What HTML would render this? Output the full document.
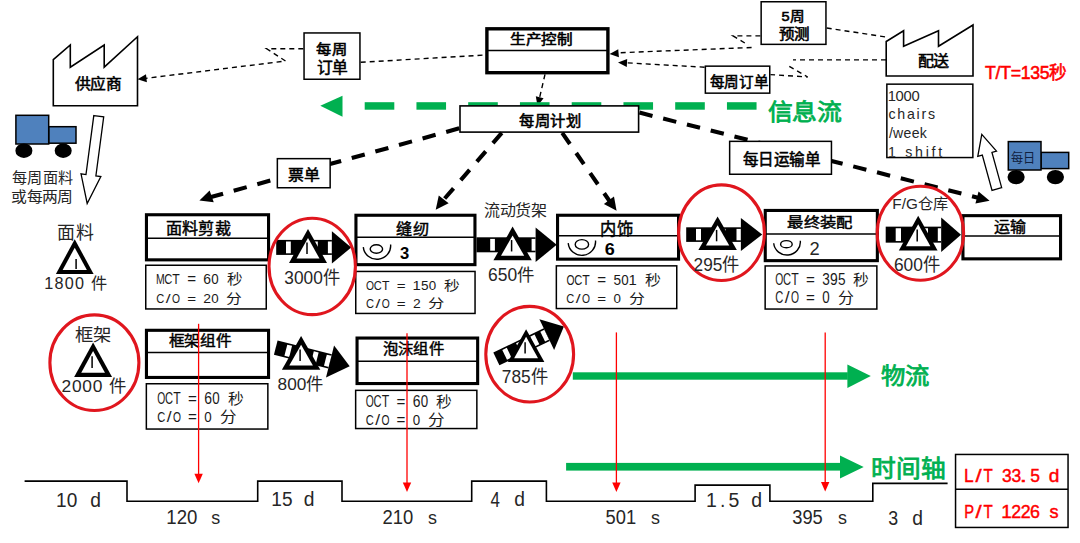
<!DOCTYPE html>
<html lang="zh-CN"><head><meta charset="utf-8"><title>VSM</title>
<style>html,body{margin:0;padding:0;background:#fff;width:1080px;height:543px;overflow:hidden}svg{display:block}</style>
</head><body>
<svg width="1080" height="543" viewBox="0 0 1080 543">
<rect width="1080" height="543" fill="#fff"/>
<path d="M53.3,105.8 L53.3,59.7 L70.3,45 L70.3,67.2 L104.2,45 L104.2,67.2 L137.5,36.7 L137.5,105.8 Z" fill="#fff" stroke="#000" stroke-width="1.6"/>
<text x="75.00" y="89.10" font-family="&quot;Liberation Sans&quot;, sans-serif" font-size="15.32" stroke="#000" stroke-width="0.55" fill="#000" textLength="46.20" lengthAdjust="spacingAndGlyphs">供应商</text>
<path d="M886.2,76 L886.2,41.5 L903.6,30.8 L903.6,46.2 L938.5,30.8 L938.5,46.2 L973,25 L973,76 Z" fill="#fff" stroke="#000" stroke-width="1.6"/>
<text x="917.50" y="66.30" font-family="&quot;Liberation Sans&quot;, sans-serif" font-size="15.11" stroke="#000" stroke-width="0.55" fill="#000" textLength="31.63" lengthAdjust="spacingAndGlyphs">配送</text>
<rect x="48.7" y="126.7" width="27.299999999999997" height="16.499999999999986" fill="#4F81BD" stroke="#000" stroke-width="1.5"/>
<rect x="15.9" y="115.3" width="32.800000000000004" height="28.700000000000003" fill="#4F81BD" stroke="#000" stroke-width="1.5"/>
<ellipse cx="23.9" cy="150.7" rx="8.5" ry="7.2" fill="#000"/>
<ellipse cx="63.2" cy="150.7" rx="8.5" ry="7.2" fill="#000"/>
<rect x="1041" y="152.4" width="27.700000000000045" height="16.19999999999999" fill="#4F81BD" stroke="#000" stroke-width="1.5"/>
<rect x="1008.3" y="141.6" width="32.700000000000045" height="28.400000000000006" fill="#4F81BD" stroke="#000" stroke-width="1.5"/>
<ellipse cx="1016.1" cy="177.1" rx="8.6" ry="7.2" fill="#000"/>
<ellipse cx="1055.4" cy="177.1" rx="8.6" ry="7.2" fill="#000"/>
<text x="1010.60" y="161.50" font-family="&quot;Liberation Sans&quot;, sans-serif" font-size="12.80" fill="#102040" textLength="24.75" lengthAdjust="spacingAndGlyphs">每日</text>
<path transform="translate(98.75,116.2) rotate(7.55)" d="M-5,0 L5,0 L5,59.5 L10,59.5 L0,88 L-10,59.5 L-5,59.5 Z" fill="#fff" stroke="#000" stroke-width="1.3"/>
<path transform="translate(996.85,189) rotate(164.6)" d="M-5,0 L5,0 L5,36.6 L9.7,36.6 L0,56.7 L-9.7,36.6 L-5,36.6 Z" fill="#fff" stroke="#000" stroke-width="1.3"/>
<text x="11.65" y="183.45" font-family="&quot;Liberation Sans&quot;, sans-serif" font-size="14.62" fill="#262626" textLength="62.10" lengthAdjust="spacingAndGlyphs">每周面料</text>
<text x="11.40" y="201.85" font-family="&quot;Liberation Sans&quot;, sans-serif" font-size="14.47" fill="#262626" textLength="61.26" lengthAdjust="spacingAndGlyphs">或每两周</text>
<rect x="304.05" y="32.95" width="55.90" height="46.30" fill="#fff" stroke="#000" stroke-width="1.5"/>
<text x="316.25" y="53.85" font-family="&quot;Liberation Sans&quot;, sans-serif" font-size="14.04" stroke="#000" stroke-width="0.55" fill="#000" textLength="30.50" lengthAdjust="spacingAndGlyphs">每周</text>
<text x="316.50" y="72.55" font-family="&quot;Liberation Sans&quot;, sans-serif" font-size="15.38" stroke="#000" stroke-width="0.55" fill="#000" textLength="30.66" lengthAdjust="spacingAndGlyphs">订单</text>
<rect x="761.15" y="1.75" width="64.80" height="42.60" fill="#fff" stroke="#000" stroke-width="1.5"/>
<text x="781.55" y="20.95" font-family="&quot;Liberation Sans&quot;, sans-serif" font-size="13.15" stroke="#000" stroke-width="0.55" fill="#000" textLength="22.54" lengthAdjust="spacingAndGlyphs">5周</text>
<text x="778.55" y="38.65" font-family="&quot;Liberation Sans&quot;, sans-serif" font-size="14.35" stroke="#000" stroke-width="0.55" fill="#000" textLength="30.28" lengthAdjust="spacingAndGlyphs">预测</text>
<rect x="705.35" y="66.15" width="64.40" height="27.00" fill="#fff" stroke="#000" stroke-width="1.5"/>
<text x="709.65" y="86.50" font-family="&quot;Liberation Sans&quot;, sans-serif" font-size="14.79" stroke="#000" stroke-width="0.55" fill="#000" textLength="59.08" lengthAdjust="spacingAndGlyphs">每周订单</text>
<rect x="486.90" y="28.80" width="121.00" height="43.90" fill="#fff" stroke="#000" stroke-width="3.4"/>
<line x1="486.9" y1="50.5" x2="607.9" y2="50.5" stroke="#000" stroke-width="1.5" stroke-linecap="butt"/>
<text x="510.00" y="43.70" font-family="&quot;Liberation Sans&quot;, sans-serif" font-size="14.04" stroke="#000" stroke-width="0.55" fill="#000" textLength="62.22" lengthAdjust="spacingAndGlyphs">生产控制</text>
<path d="M303.3,48.8 L266.7,48.8 L285.5,61 L143,78.7" fill="none" stroke="#000" stroke-width="1.4" stroke-dasharray="5,4"/>
<polygon points="137.50,79.30 145.98,74.29 146.90,82.24" fill="#000" stroke="none" stroke-width="0"/>
<line x1="360.7" y1="62.3" x2="485.2" y2="55" stroke="#000" stroke-width="1.4" stroke-dasharray="5,4" stroke-linecap="butt"/>
<line x1="826.7" y1="28" x2="886" y2="37" stroke="#000" stroke-width="1.4" stroke-dasharray="5,4" stroke-linecap="butt"/>
<path d="M760.4,35.9 L733.1,35.9 L748.3,45.1" fill="none" stroke="#000" stroke-width="1.4" stroke-dasharray="5,4"/>
<line x1="751.6" y1="47.5" x2="618" y2="52.8" stroke="#000" stroke-width="1.4" stroke-dasharray="5,4" stroke-linecap="butt"/>
<polygon points="609.60,54.00 618.23,49.25 618.91,57.22" fill="#000" stroke="none" stroke-width="0"/>
<path d="M886,59.9 L793,59.9" fill="none" stroke="#000" stroke-width="1.4" stroke-dasharray="5,4"/>
<path d="M789.3,66.3 L807.7,77 L770.5,74.6" fill="none" stroke="#000" stroke-width="1.4" stroke-dasharray="5,4"/>
<line x1="704.6" y1="67.2" x2="626" y2="62.8" stroke="#000" stroke-width="1.4" stroke-dasharray="5,4" stroke-linecap="butt"/>
<polygon points="618.00,62.50 627.19,58.95 626.79,66.94" fill="#000" stroke="none" stroke-width="0"/>
<line x1="545" y1="74.4" x2="539.5" y2="98" stroke="#000" stroke-width="1.4" stroke-dasharray="5,4" stroke-linecap="butt"/>
<polygon points="537.50,106.00 535.80,96.30 543.56,98.24" fill="#000" stroke="none" stroke-width="0"/>
<rect x="364.70" y="102.2" width="29.6" height="7.5" fill="#00B050"/>
<rect x="416.45" y="102.2" width="29.6" height="7.5" fill="#00B050"/>
<rect x="468.20" y="102.2" width="29.6" height="7.5" fill="#00B050"/>
<rect x="519.95" y="102.2" width="29.6" height="7.5" fill="#00B050"/>
<rect x="571.70" y="102.2" width="29.6" height="7.5" fill="#00B050"/>
<rect x="623.45" y="102.2" width="29.6" height="7.5" fill="#00B050"/>
<rect x="675.20" y="102.2" width="29.6" height="7.5" fill="#00B050"/>
<rect x="726.95" y="102.2" width="29.6" height="7.5" fill="#00B050"/>
<polygon points="320.30,105.80 342.50,95.80 342.50,116.70" fill="#00B050" stroke="none" stroke-width="0"/>
<text x="767.65" y="120.25" font-family="&quot;Liberation Sans&quot;, sans-serif" font-size="23.26" stroke="#00B050" stroke-width="0.8" fill="#00B050" textLength="73.64" lengthAdjust="spacingAndGlyphs">信息流</text>
<rect x="460.00" y="105.90" width="178.60" height="26.20" fill="#fff" stroke="#000" stroke-width="1.6"/>
<text x="519.15" y="126.00" font-family="&quot;Liberation Sans&quot;, sans-serif" font-size="14.79" stroke="#000" stroke-width="0.55" fill="#000" textLength="62.17" lengthAdjust="spacingAndGlyphs">每周计划</text>
<rect x="886.85" y="84.15" width="86.00" height="73.40" fill="#fff" stroke="#000" stroke-width="1.5"/>
<clipPath id="cb"><rect x="887" y="84.5" width="85" height="72.3"/></clipPath>
<g clip-path="url(#cb)">
<text x="887.65" y="100.55" font-family="&quot;Liberation Sans&quot;, sans-serif" font-size="14.79" fill="#262626" textLength="31.99" lengthAdjust="spacing">1000</text>
<text x="888.40" y="118.75" font-family="&quot;Liberation Sans&quot;, sans-serif" font-size="14.19" fill="#262626" textLength="46.60" lengthAdjust="spacing">chairs</text>
<text x="888.90" y="138.45" font-family="&quot;Liberation Sans&quot;, sans-serif" font-size="14.05" fill="#262626" textLength="37.98" lengthAdjust="spacing">/week</text>
<text x="887.90" y="156.55" font-family="&quot;Liberation Sans&quot;, sans-serif" font-size="14.19" fill="#262626" textLength="54.30" lengthAdjust="spacing">1 shift</text>
</g>
<text x="985.10" y="79.05" font-family="&quot;Liberation Sans&quot;, sans-serif" font-size="17.66" stroke="#FF0000" stroke-width="0.55" fill="#FF0000" textLength="82.20" lengthAdjust="spacing">T/T=135秒</text>
<line x1="459.2" y1="128.3" x2="206" y2="198.4" stroke="#000" stroke-width="4.1" stroke-dasharray="13.5,11" stroke-linecap="butt"/>
<polygon points="199.40,200.60 209.62,190.42 213.73,202.22" fill="#000" stroke="none" stroke-width="0"/>
<rect x="277.35" y="158.65" width="52.80" height="29.10" fill="#fff" stroke="#000" stroke-width="1.5"/>
<text x="288.35" y="180.00" font-family="&quot;Liberation Sans&quot;, sans-serif" font-size="15.16" stroke="#000" stroke-width="0.55" fill="#000" textLength="31.40" lengthAdjust="spacingAndGlyphs">票单</text>
<line x1="501.8" y1="132.9" x2="442.5" y2="201" stroke="#000" stroke-width="4.1" stroke-dasharray="13.5,11" stroke-linecap="butt"/>
<polygon points="435.70,209.70 438.78,195.61 448.63,203.31" fill="#000" stroke="none" stroke-width="0"/>
<line x1="562.2" y1="132.9" x2="609.5" y2="201" stroke="#000" stroke-width="4.1" stroke-dasharray="13.5,11" stroke-linecap="butt"/>
<polygon points="616.60,210.70 603.88,203.90 613.96,196.52" fill="#000" stroke="none" stroke-width="0"/>
<line x1="639.4" y1="112.6" x2="981" y2="198.5" stroke="#000" stroke-width="4.1" stroke-dasharray="13.5,11" stroke-linecap="butt"/>
<polygon points="989.60,200.70 975.46,203.55 978.54,191.43" fill="#000" stroke="none" stroke-width="0"/>
<rect x="729.65" y="141.35" width="101.80" height="32.90" fill="#fff" stroke="#000" stroke-width="1.5"/>
<text x="742.55" y="164.85" font-family="&quot;Liberation Sans&quot;, sans-serif" font-size="15.96" stroke="#000" stroke-width="0.55" fill="#000" textLength="77.96" lengthAdjust="spacingAndGlyphs">每日运输单</text>
<rect x="146.45" y="214.75" width="122.10" height="45.10" fill="#fff" stroke="#000" stroke-width="3.1"/>
<line x1="146.45000000000002" y1="238.2" x2="268.55" y2="238.2" stroke="#000" stroke-width="1.5" stroke-linecap="butt"/>
<text x="165.55" y="234.10" font-family="&quot;Liberation Sans&quot;, sans-serif" font-size="15.74" stroke="#000" stroke-width="0.45" fill="#000" textLength="65.37" lengthAdjust="spacingAndGlyphs">面料剪裁</text>
<rect x="145.75" y="265.25" width="120.50" height="43.70" fill="#fff" stroke="#000" stroke-width="1.5"/>
<text x="156.06" y="284.40" font-family="&quot;Liberation Sans&quot;, sans-serif" font-size="14.43" fill="#1a1a1a" textLength="8.70" lengthAdjust="spacingAndGlyphs">M</text>
<text x="164.14" y="284.40" font-family="&quot;Liberation Sans&quot;, sans-serif" font-size="14.43" fill="#1a1a1a" textLength="8.02" lengthAdjust="spacingAndGlyphs">C</text>
<text x="172.25" y="284.40" font-family="&quot;Liberation Sans&quot;, sans-serif" font-size="14.43" fill="#1a1a1a" textLength="7.50" lengthAdjust="spacingAndGlyphs">T</text>
<text x="187.19" y="284.40" font-family="&quot;Liberation Sans&quot;, sans-serif" font-size="14.43" fill="#1a1a1a" textLength="8.88" lengthAdjust="spacingAndGlyphs">=</text>
<text x="203.30" y="284.40" font-family="&quot;Liberation Sans&quot;, sans-serif" font-size="14.43" fill="#1a1a1a" textLength="7.74" lengthAdjust="spacingAndGlyphs">6</text>
<text x="211.27" y="284.40" font-family="&quot;Liberation Sans&quot;, sans-serif" font-size="14.43" fill="#1a1a1a" textLength="7.42" lengthAdjust="spacingAndGlyphs">0</text>
<text x="226.72" y="284.30" font-family="&quot;Liberation Sans&quot;, sans-serif" font-size="13.74" fill="#1a1a1a" textLength="15.87" lengthAdjust="spacingAndGlyphs">秒</text>
<text x="156.34" y="303.00" font-family="&quot;Liberation Sans&quot;, sans-serif" font-size="13.14" fill="#1a1a1a" textLength="8.02" lengthAdjust="spacingAndGlyphs">C</text>
<text x="165.75" y="303.00" font-family="&quot;Liberation Sans&quot;, sans-serif" font-size="13.14" fill="#1a1a1a" textLength="4.86" lengthAdjust="spacingAndGlyphs">/</text>
<text x="171.99" y="303.00" font-family="&quot;Liberation Sans&quot;, sans-serif" font-size="13.14" fill="#1a1a1a" textLength="8.01" lengthAdjust="spacingAndGlyphs">O</text>
<text x="187.19" y="303.00" font-family="&quot;Liberation Sans&quot;, sans-serif" font-size="13.14" fill="#1a1a1a" textLength="8.88" lengthAdjust="spacingAndGlyphs">=</text>
<text x="203.30" y="303.00" font-family="&quot;Liberation Sans&quot;, sans-serif" font-size="13.14" fill="#1a1a1a" textLength="7.74" lengthAdjust="spacingAndGlyphs">2</text>
<text x="211.27" y="303.00" font-family="&quot;Liberation Sans&quot;, sans-serif" font-size="13.14" fill="#1a1a1a" textLength="7.42" lengthAdjust="spacingAndGlyphs">0</text>
<text x="226.40" y="302.85" font-family="&quot;Liberation Sans&quot;, sans-serif" font-size="12.75" fill="#1a1a1a" textLength="16.04" lengthAdjust="spacingAndGlyphs">分</text>
<rect x="355.95" y="215.25" width="119.00" height="49.40" fill="#fff" stroke="#000" stroke-width="3.1"/>
<line x1="355.95" y1="237.3" x2="474.95" y2="237.3" stroke="#000" stroke-width="1.5" stroke-linecap="butt"/>
<text x="396.45" y="233.85" font-family="&quot;Liberation Sans&quot;, sans-serif" font-size="14.68" stroke="#000" stroke-width="0.45" fill="#000" textLength="33.06" lengthAdjust="spacingAndGlyphs">缝纫</text>
<path d="M363.3,247.1 A13.65,13.40 0 0 0 390.6,244.5" fill="none" stroke="#000" stroke-width="1.4"/>
<ellipse cx="376.4" cy="249" rx="6.2" ry="4.3" fill="none" stroke="#000" stroke-width="1.4"/>
<text x="400.10" y="259.00" font-family="&quot;Liberation Sans&quot;, sans-serif" font-size="16.48" font-weight="bold" fill="#000" textLength="9.24" lengthAdjust="spacingAndGlyphs">3</text>
<rect x="355.75" y="271.45" width="119.30" height="42.00" fill="#fff" stroke="#000" stroke-width="1.5"/>
<text x="366.09" y="289.80" font-family="&quot;Liberation Sans&quot;, sans-serif" font-size="13.29" fill="#1a1a1a" textLength="8.01" lengthAdjust="spacingAndGlyphs">O</text>
<text x="373.84" y="289.80" font-family="&quot;Liberation Sans&quot;, sans-serif" font-size="13.29" fill="#1a1a1a" textLength="8.02" lengthAdjust="spacingAndGlyphs">C</text>
<text x="381.95" y="289.80" font-family="&quot;Liberation Sans&quot;, sans-serif" font-size="13.29" fill="#1a1a1a" textLength="7.50" lengthAdjust="spacingAndGlyphs">T</text>
<text x="396.89" y="289.80" font-family="&quot;Liberation Sans&quot;, sans-serif" font-size="13.29" fill="#1a1a1a" textLength="8.88" lengthAdjust="spacingAndGlyphs">=</text>
<text x="412.51" y="289.80" font-family="&quot;Liberation Sans&quot;, sans-serif" font-size="13.29" fill="#1a1a1a" textLength="8.28" lengthAdjust="spacingAndGlyphs">1</text>
<text x="420.96" y="289.80" font-family="&quot;Liberation Sans&quot;, sans-serif" font-size="13.29" fill="#1a1a1a" textLength="7.57" lengthAdjust="spacingAndGlyphs">5</text>
<text x="428.77" y="289.80" font-family="&quot;Liberation Sans&quot;, sans-serif" font-size="13.29" fill="#1a1a1a" textLength="7.42" lengthAdjust="spacingAndGlyphs">0</text>
<text x="444.22" y="289.77" font-family="&quot;Liberation Sans&quot;, sans-serif" font-size="12.86" fill="#1a1a1a" textLength="15.87" lengthAdjust="spacingAndGlyphs">秒</text>
<text x="366.04" y="307.70" font-family="&quot;Liberation Sans&quot;, sans-serif" font-size="12.57" fill="#1a1a1a" textLength="8.02" lengthAdjust="spacingAndGlyphs">C</text>
<text x="375.45" y="307.70" font-family="&quot;Liberation Sans&quot;, sans-serif" font-size="12.57" fill="#1a1a1a" textLength="4.86" lengthAdjust="spacingAndGlyphs">/</text>
<text x="381.69" y="307.70" font-family="&quot;Liberation Sans&quot;, sans-serif" font-size="12.57" fill="#1a1a1a" textLength="8.01" lengthAdjust="spacingAndGlyphs">O</text>
<text x="396.89" y="307.70" font-family="&quot;Liberation Sans&quot;, sans-serif" font-size="12.57" fill="#1a1a1a" textLength="8.88" lengthAdjust="spacingAndGlyphs">=</text>
<text x="413.00" y="307.70" font-family="&quot;Liberation Sans&quot;, sans-serif" font-size="12.57" fill="#1a1a1a" textLength="7.74" lengthAdjust="spacingAndGlyphs">2</text>
<text x="428.30" y="307.59" font-family="&quot;Liberation Sans&quot;, sans-serif" font-size="12.31" fill="#1a1a1a" textLength="16.04" lengthAdjust="spacingAndGlyphs">分</text>
<rect x="557.55" y="215.25" width="121.00" height="43.90" fill="#fff" stroke="#000" stroke-width="3.1"/>
<line x1="557.55" y1="235.8" x2="678.5500000000001" y2="235.8" stroke="#000" stroke-width="1.5" stroke-linecap="butt"/>
<text x="600.10" y="234.85" font-family="&quot;Liberation Sans&quot;, sans-serif" font-size="16.60" stroke="#000" stroke-width="0.45" fill="#000" textLength="33.30" lengthAdjust="spacingAndGlyphs">内饰</text>
<path d="M568.2,243.1 A13.65,13.50 0 0 0 595.5,240.5" fill="none" stroke="#000" stroke-width="1.4"/>
<ellipse cx="581.9" cy="244.4" rx="6.7" ry="4.75" fill="none" stroke="#000" stroke-width="1.4"/>
<text x="604.75" y="255.10" font-family="&quot;Liberation Sans&quot;, sans-serif" font-size="17.18" font-weight="bold" fill="#000" textLength="10.03" lengthAdjust="spacingAndGlyphs">6</text>
<rect x="556.35" y="265.85" width="120.40" height="42.70" fill="#fff" stroke="#000" stroke-width="1.5"/>
<text x="566.39" y="285.00" font-family="&quot;Liberation Sans&quot;, sans-serif" font-size="14.86" fill="#1a1a1a" textLength="8.01" lengthAdjust="spacingAndGlyphs">O</text>
<text x="574.14" y="285.00" font-family="&quot;Liberation Sans&quot;, sans-serif" font-size="14.86" fill="#1a1a1a" textLength="8.02" lengthAdjust="spacingAndGlyphs">C</text>
<text x="582.25" y="285.00" font-family="&quot;Liberation Sans&quot;, sans-serif" font-size="14.86" fill="#1a1a1a" textLength="7.50" lengthAdjust="spacingAndGlyphs">T</text>
<text x="597.19" y="285.00" font-family="&quot;Liberation Sans&quot;, sans-serif" font-size="14.86" fill="#1a1a1a" textLength="8.88" lengthAdjust="spacingAndGlyphs">=</text>
<text x="613.46" y="285.00" font-family="&quot;Liberation Sans&quot;, sans-serif" font-size="14.86" fill="#1a1a1a" textLength="7.57" lengthAdjust="spacingAndGlyphs">5</text>
<text x="621.27" y="285.00" font-family="&quot;Liberation Sans&quot;, sans-serif" font-size="14.86" fill="#1a1a1a" textLength="7.42" lengthAdjust="spacingAndGlyphs">0</text>
<text x="628.41" y="285.00" font-family="&quot;Liberation Sans&quot;, sans-serif" font-size="14.86" fill="#1a1a1a" textLength="8.28" lengthAdjust="spacingAndGlyphs">1</text>
<text x="644.52" y="284.87" font-family="&quot;Liberation Sans&quot;, sans-serif" font-size="14.07" fill="#1a1a1a" textLength="15.87" lengthAdjust="spacingAndGlyphs">秒</text>
<text x="566.34" y="302.80" font-family="&quot;Liberation Sans&quot;, sans-serif" font-size="13.29" fill="#1a1a1a" textLength="8.02" lengthAdjust="spacingAndGlyphs">C</text>
<text x="575.75" y="302.80" font-family="&quot;Liberation Sans&quot;, sans-serif" font-size="13.29" fill="#1a1a1a" textLength="4.86" lengthAdjust="spacingAndGlyphs">/</text>
<text x="581.99" y="302.80" font-family="&quot;Liberation Sans&quot;, sans-serif" font-size="13.29" fill="#1a1a1a" textLength="8.01" lengthAdjust="spacingAndGlyphs">O</text>
<text x="597.19" y="302.80" font-family="&quot;Liberation Sans&quot;, sans-serif" font-size="13.29" fill="#1a1a1a" textLength="8.88" lengthAdjust="spacingAndGlyphs">=</text>
<text x="613.47" y="302.80" font-family="&quot;Liberation Sans&quot;, sans-serif" font-size="13.29" fill="#1a1a1a" textLength="7.42" lengthAdjust="spacingAndGlyphs">0</text>
<text x="628.60" y="302.64" font-family="&quot;Liberation Sans&quot;, sans-serif" font-size="12.86" fill="#1a1a1a" textLength="16.04" lengthAdjust="spacingAndGlyphs">分</text>
<rect x="765.25" y="210.45" width="112.10" height="50.20" fill="#fff" stroke="#000" stroke-width="3.1"/>
<line x1="765.25" y1="233.9" x2="877.35" y2="233.9" stroke="#000" stroke-width="1.5" stroke-linecap="butt"/>
<text x="787.30" y="227.25" font-family="&quot;Liberation Sans&quot;, sans-serif" font-size="14.15" stroke="#000" stroke-width="0.45" fill="#000" textLength="64.99" lengthAdjust="spacingAndGlyphs">最终装配</text>
<path d="M773.7,243.3 A13.30,12.95 0 0 0 800.3,240.8" fill="none" stroke="#000" stroke-width="1.4"/>
<ellipse cx="786.4" cy="244.2" rx="5.8" ry="3.6" fill="none" stroke="#000" stroke-width="1.4"/>
<text x="809.60" y="255.05" font-family="&quot;Liberation Sans&quot;, sans-serif" font-size="17.43" fill="#262626" textLength="10.22" lengthAdjust="spacingAndGlyphs">2</text>
<rect x="765.15" y="265.95" width="111.70" height="43.10" fill="#fff" stroke="#000" stroke-width="1.5"/>
<text x="775.29" y="285.00" font-family="&quot;Liberation Sans&quot;, sans-serif" font-size="16.00" fill="#1a1a1a" textLength="8.01" lengthAdjust="spacingAndGlyphs">O</text>
<text x="783.04" y="285.00" font-family="&quot;Liberation Sans&quot;, sans-serif" font-size="16.00" fill="#1a1a1a" textLength="8.02" lengthAdjust="spacingAndGlyphs">C</text>
<text x="791.15" y="285.00" font-family="&quot;Liberation Sans&quot;, sans-serif" font-size="16.00" fill="#1a1a1a" textLength="7.50" lengthAdjust="spacingAndGlyphs">T</text>
<text x="806.09" y="285.00" font-family="&quot;Liberation Sans&quot;, sans-serif" font-size="16.00" fill="#1a1a1a" textLength="8.88" lengthAdjust="spacingAndGlyphs">=</text>
<text x="822.36" y="285.00" font-family="&quot;Liberation Sans&quot;, sans-serif" font-size="16.00" fill="#1a1a1a" textLength="7.57" lengthAdjust="spacingAndGlyphs">3</text>
<text x="830.00" y="285.00" font-family="&quot;Liberation Sans&quot;, sans-serif" font-size="16.00" fill="#1a1a1a" textLength="7.74" lengthAdjust="spacingAndGlyphs">9</text>
<text x="837.96" y="285.00" font-family="&quot;Liberation Sans&quot;, sans-serif" font-size="16.00" fill="#1a1a1a" textLength="7.57" lengthAdjust="spacingAndGlyphs">5</text>
<text x="853.42" y="284.80" font-family="&quot;Liberation Sans&quot;, sans-serif" font-size="14.95" fill="#1a1a1a" textLength="15.87" lengthAdjust="spacingAndGlyphs">秒</text>
<text x="775.24" y="303.00" font-family="&quot;Liberation Sans&quot;, sans-serif" font-size="16.00" fill="#1a1a1a" textLength="8.02" lengthAdjust="spacingAndGlyphs">C</text>
<text x="784.65" y="303.00" font-family="&quot;Liberation Sans&quot;, sans-serif" font-size="16.00" fill="#1a1a1a" textLength="4.86" lengthAdjust="spacingAndGlyphs">/</text>
<text x="790.89" y="303.00" font-family="&quot;Liberation Sans&quot;, sans-serif" font-size="16.00" fill="#1a1a1a" textLength="8.01" lengthAdjust="spacingAndGlyphs">O</text>
<text x="806.09" y="303.00" font-family="&quot;Liberation Sans&quot;, sans-serif" font-size="16.00" fill="#1a1a1a" textLength="8.88" lengthAdjust="spacingAndGlyphs">=</text>
<text x="822.37" y="303.00" font-family="&quot;Liberation Sans&quot;, sans-serif" font-size="16.00" fill="#1a1a1a" textLength="7.42" lengthAdjust="spacingAndGlyphs">0</text>
<text x="837.50" y="302.65" font-family="&quot;Liberation Sans&quot;, sans-serif" font-size="14.95" fill="#1a1a1a" textLength="16.04" lengthAdjust="spacingAndGlyphs">分</text>
<rect x="962.95" y="215.65" width="97.60" height="43.20" fill="#fff" stroke="#000" stroke-width="3.1"/>
<line x1="962.9499999999999" y1="236" x2="1060.55" y2="236" stroke="#000" stroke-width="1.5" stroke-linecap="butt"/>
<text x="993.60" y="231.80" font-family="&quot;Liberation Sans&quot;, sans-serif" font-size="15.00" stroke="#000" stroke-width="0.45" fill="#000" textLength="31.97" lengthAdjust="spacingAndGlyphs">运输</text>
<rect x="146.45" y="330.30" width="122.10" height="47.15" fill="#fff" stroke="#000" stroke-width="3.1"/>
<line x1="146.45000000000002" y1="352.5" x2="268.55" y2="352.5" stroke="#000" stroke-width="1.5" stroke-linecap="butt"/>
<text x="168.95" y="346.30" font-family="&quot;Liberation Sans&quot;, sans-serif" font-size="15.11" stroke="#000" stroke-width="0.45" fill="#000" textLength="62.24" lengthAdjust="spacingAndGlyphs">框架组件</text>
<rect x="146.35" y="383.75" width="121.50" height="45.30" fill="#fff" stroke="#000" stroke-width="1.5"/>
<text x="157.29" y="404.00" font-family="&quot;Liberation Sans&quot;, sans-serif" font-size="16.00" fill="#1a1a1a" textLength="8.01" lengthAdjust="spacingAndGlyphs">O</text>
<text x="165.04" y="404.00" font-family="&quot;Liberation Sans&quot;, sans-serif" font-size="16.00" fill="#1a1a1a" textLength="8.02" lengthAdjust="spacingAndGlyphs">C</text>
<text x="173.15" y="404.00" font-family="&quot;Liberation Sans&quot;, sans-serif" font-size="16.00" fill="#1a1a1a" textLength="7.50" lengthAdjust="spacingAndGlyphs">T</text>
<text x="188.09" y="404.00" font-family="&quot;Liberation Sans&quot;, sans-serif" font-size="16.00" fill="#1a1a1a" textLength="8.88" lengthAdjust="spacingAndGlyphs">=</text>
<text x="204.20" y="404.00" font-family="&quot;Liberation Sans&quot;, sans-serif" font-size="16.00" fill="#1a1a1a" textLength="7.74" lengthAdjust="spacingAndGlyphs">6</text>
<text x="212.17" y="404.00" font-family="&quot;Liberation Sans&quot;, sans-serif" font-size="16.00" fill="#1a1a1a" textLength="7.42" lengthAdjust="spacingAndGlyphs">0</text>
<text x="227.62" y="403.80" font-family="&quot;Liberation Sans&quot;, sans-serif" font-size="14.95" fill="#1a1a1a" textLength="15.87" lengthAdjust="spacingAndGlyphs">秒</text>
<text x="157.24" y="422.00" font-family="&quot;Liberation Sans&quot;, sans-serif" font-size="15.43" fill="#1a1a1a" textLength="8.02" lengthAdjust="spacingAndGlyphs">C</text>
<text x="166.65" y="422.00" font-family="&quot;Liberation Sans&quot;, sans-serif" font-size="15.43" fill="#1a1a1a" textLength="4.86" lengthAdjust="spacingAndGlyphs">/</text>
<text x="172.89" y="422.00" font-family="&quot;Liberation Sans&quot;, sans-serif" font-size="15.43" fill="#1a1a1a" textLength="8.01" lengthAdjust="spacingAndGlyphs">O</text>
<text x="188.09" y="422.00" font-family="&quot;Liberation Sans&quot;, sans-serif" font-size="15.43" fill="#1a1a1a" textLength="8.88" lengthAdjust="spacingAndGlyphs">=</text>
<text x="204.37" y="422.00" font-family="&quot;Liberation Sans&quot;, sans-serif" font-size="15.43" fill="#1a1a1a" textLength="7.42" lengthAdjust="spacingAndGlyphs">0</text>
<text x="219.50" y="421.69" font-family="&quot;Liberation Sans&quot;, sans-serif" font-size="14.51" fill="#1a1a1a" textLength="16.04" lengthAdjust="spacingAndGlyphs">分</text>
<rect x="357.05" y="338.05" width="120.60" height="45.50" fill="#fff" stroke="#000" stroke-width="3.1"/>
<line x1="357.05" y1="361.3" x2="477.65" y2="361.3" stroke="#000" stroke-width="1.5" stroke-linecap="butt"/>
<text x="382.55" y="354.45" font-family="&quot;Liberation Sans&quot;, sans-serif" font-size="14.89" stroke="#000" stroke-width="0.45" fill="#000" textLength="61.89" lengthAdjust="spacingAndGlyphs">泡沫组件</text>
<rect x="355.65" y="390.35" width="121.20" height="38.20" fill="#fff" stroke="#000" stroke-width="1.5"/>
<text x="365.79" y="407.00" font-family="&quot;Liberation Sans&quot;, sans-serif" font-size="16.00" fill="#1a1a1a" textLength="8.01" lengthAdjust="spacingAndGlyphs">O</text>
<text x="373.54" y="407.00" font-family="&quot;Liberation Sans&quot;, sans-serif" font-size="16.00" fill="#1a1a1a" textLength="8.02" lengthAdjust="spacingAndGlyphs">C</text>
<text x="381.65" y="407.00" font-family="&quot;Liberation Sans&quot;, sans-serif" font-size="16.00" fill="#1a1a1a" textLength="7.50" lengthAdjust="spacingAndGlyphs">T</text>
<text x="396.59" y="407.00" font-family="&quot;Liberation Sans&quot;, sans-serif" font-size="16.00" fill="#1a1a1a" textLength="8.88" lengthAdjust="spacingAndGlyphs">=</text>
<text x="412.70" y="407.00" font-family="&quot;Liberation Sans&quot;, sans-serif" font-size="16.00" fill="#1a1a1a" textLength="7.74" lengthAdjust="spacingAndGlyphs">6</text>
<text x="420.67" y="407.00" font-family="&quot;Liberation Sans&quot;, sans-serif" font-size="16.00" fill="#1a1a1a" textLength="7.42" lengthAdjust="spacingAndGlyphs">0</text>
<text x="436.12" y="406.80" font-family="&quot;Liberation Sans&quot;, sans-serif" font-size="14.95" fill="#1a1a1a" textLength="15.87" lengthAdjust="spacingAndGlyphs">秒</text>
<text x="365.74" y="425.00" font-family="&quot;Liberation Sans&quot;, sans-serif" font-size="15.43" fill="#1a1a1a" textLength="8.02" lengthAdjust="spacingAndGlyphs">C</text>
<text x="375.15" y="425.00" font-family="&quot;Liberation Sans&quot;, sans-serif" font-size="15.43" fill="#1a1a1a" textLength="4.86" lengthAdjust="spacingAndGlyphs">/</text>
<text x="381.39" y="425.00" font-family="&quot;Liberation Sans&quot;, sans-serif" font-size="15.43" fill="#1a1a1a" textLength="8.01" lengthAdjust="spacingAndGlyphs">O</text>
<text x="396.59" y="425.00" font-family="&quot;Liberation Sans&quot;, sans-serif" font-size="15.43" fill="#1a1a1a" textLength="8.88" lengthAdjust="spacingAndGlyphs">=</text>
<text x="412.87" y="425.00" font-family="&quot;Liberation Sans&quot;, sans-serif" font-size="15.43" fill="#1a1a1a" textLength="7.42" lengthAdjust="spacingAndGlyphs">0</text>
<text x="428.00" y="424.69" font-family="&quot;Liberation Sans&quot;, sans-serif" font-size="14.51" fill="#1a1a1a" textLength="16.04" lengthAdjust="spacingAndGlyphs">分</text>
<text x="57.40" y="239.00" font-family="&quot;Liberation Sans&quot;, sans-serif" font-size="17.83" fill="#262626" textLength="36.26" lengthAdjust="spacingAndGlyphs">面料</text>
<polygon points="74.75,239.30 55.90,274.00 93.60,274.00" fill="#000" stroke="none" stroke-width="0"/>
<polygon points="74.75,247.68 62.63,270.00 86.87,270.00" fill="#fff" stroke="none" stroke-width="0"/>
<line x1="76.1" y1="259.1" x2="76.1" y2="269" stroke="#000" stroke-width="1.5" stroke-linecap="butt"/>
<text x="44.15" y="288.90" font-family="&quot;Liberation Sans&quot;, sans-serif" font-size="16.20" fill="#262626" textLength="62.75" lengthAdjust="spacing">1800 件</text>
<rect x="276.2" y="239.9" width="55.69999999999999" height="15" fill="#000"/>
<rect x="286" y="241.5" width="4.8" height="11.8" fill="#fff"/>
<rect x="313" y="241.5" width="4.8" height="11.8" fill="#fff"/>
<rect x="327.9" y="241.5" width="4" height="11.8" fill="#fff"/>
<polygon points="331.90,231.20 351.20,247.40 331.90,263.60" fill="#000" stroke="none" stroke-width="0"/>
<polygon points="308.00,229.00 289.00,262.90 327.00,262.90" fill="#000" stroke="none" stroke-width="0"/>
<polygon points="308.00,238.00 296.51,258.50 319.49,258.50" fill="#fff" stroke="none" stroke-width="0"/>
<line x1="307" y1="242.56" x2="307" y2="254.08599999999998" stroke="#000" stroke-width="1.5" stroke-linecap="butt"/>
<text x="284.35" y="283.70" font-family="&quot;Liberation Sans&quot;, sans-serif" font-size="18.04" fill="#262626" textLength="55.69" lengthAdjust="spacingAndGlyphs">3000件</text>
<ellipse cx="312.2" cy="266.4" rx="43.2" ry="48.2" fill="none" stroke="#E0161E" stroke-width="3.1"/>
<text x="484.15" y="215.50" font-family="&quot;Liberation Sans&quot;, sans-serif" font-size="15.38" fill="#262626" textLength="62.36" lengthAdjust="spacingAndGlyphs">流动货架</text>
<rect x="476.5" y="237.3" width="59.10000000000002" height="15" fill="#000"/>
<rect x="490.2" y="238.9" width="4.7" height="11.8" fill="#fff"/>
<rect x="513" y="238.9" width="4.6" height="11.8" fill="#fff"/>
<rect x="531.6" y="238.9" width="4" height="11.8" fill="#fff"/>
<polygon points="535.60,227.55 556.70,244.80 535.60,262.05" fill="#000" stroke="none" stroke-width="0"/>
<polygon points="512.60,226.60 493.45,260.20 531.75,260.20" fill="#000" stroke="none" stroke-width="0"/>
<polygon points="512.60,235.49 501.02,255.80 524.18,255.80" fill="#fff" stroke="none" stroke-width="0"/>
<line x1="511.6" y1="240.04" x2="511.6" y2="251.464" stroke="#000" stroke-width="1.5" stroke-linecap="butt"/>
<text x="488.10" y="280.65" font-family="&quot;Liberation Sans&quot;, sans-serif" font-size="17.50" fill="#262626" textLength="46.00" lengthAdjust="spacingAndGlyphs">650件</text>
<rect x="686.2" y="227.29999999999998" width="54.69999999999993" height="14.6" fill="#000"/>
<rect x="696" y="228.89999999999998" width="5" height="11.399999999999999" fill="#fff"/>
<rect x="721" y="228.89999999999998" width="4.6" height="11.399999999999999" fill="#fff"/>
<rect x="736.5" y="228.89999999999998" width="4.4" height="11.399999999999999" fill="#fff"/>
<polygon points="740.90,218.10 762.20,234.60 740.90,251.10" fill="#000" stroke="none" stroke-width="0"/>
<polygon points="717.60,216.50 698.35,250.00 736.85,250.00" fill="#000" stroke="none" stroke-width="0"/>
<polygon points="717.60,225.33 705.95,245.60 729.25,245.60" fill="#fff" stroke="none" stroke-width="0"/>
<line x1="716.6" y1="229.9" x2="716.6" y2="241.29" stroke="#000" stroke-width="1.5" stroke-linecap="butt"/>
<ellipse cx="721.5" cy="232.7" rx="42.9" ry="47.8" fill="none" stroke="#E0161E" stroke-width="3.1"/>
<text x="693.55" y="271.05" font-family="&quot;Liberation Sans&quot;, sans-serif" font-size="17.72" fill="#262626" textLength="46.36" lengthAdjust="spacingAndGlyphs">295件</text>
<text x="892.35" y="209.10" font-family="&quot;Liberation Sans&quot;, sans-serif" font-size="15.27" fill="#262626" textLength="55.46" lengthAdjust="spacingAndGlyphs">F/G仓库</text>
<rect x="885.7" y="226.65" width="55.5" height="16" fill="#000"/>
<rect x="895.7" y="228.25" width="5.3" height="12.8" fill="#fff"/>
<rect x="924.7" y="228.25" width="3.3" height="12.8" fill="#fff"/>
<rect x="937.8" y="228.25" width="3.4" height="12.8" fill="#fff"/>
<polygon points="941.20,217.40 961.00,234.65 941.20,251.90" fill="#000" stroke="none" stroke-width="0"/>
<polygon points="918.20,215.70 898.85,250.50 937.55,250.50" fill="#000" stroke="none" stroke-width="0"/>
<polygon points="918.20,224.34 905.99,246.30 930.41,246.30" fill="#fff" stroke="none" stroke-width="0"/>
<line x1="917.2" y1="229.62" x2="917.2" y2="241.452" stroke="#000" stroke-width="1.5" stroke-linecap="butt"/>
<ellipse cx="920.4" cy="233.3" rx="43.2" ry="47" fill="none" stroke="#E0161E" stroke-width="3.1"/>
<text x="893.90" y="271.10" font-family="&quot;Liberation Sans&quot;, sans-serif" font-size="18.04" fill="#262626" textLength="46.21" lengthAdjust="spacingAndGlyphs">600件</text>
<ellipse cx="94.4" cy="362.7" rx="44.5" ry="47.8" fill="none" stroke="#E0161E" stroke-width="3.1"/>
<text x="74.50" y="341.10" font-family="&quot;Liberation Sans&quot;, sans-serif" font-size="17.63" fill="#262626" textLength="37.40" lengthAdjust="spacingAndGlyphs">框架</text>
<polygon points="93.10,342.40 74.15,376.90 112.05,376.90" fill="#000" stroke="none" stroke-width="0"/>
<polygon points="93.10,351.12 81.25,372.70 104.95,372.70" fill="#fff" stroke="none" stroke-width="0"/>
<line x1="92.1" y1="356.2" x2="92.1" y2="367.92999999999995" stroke="#000" stroke-width="1.5" stroke-linecap="butt"/>
<text x="61.60" y="391.80" font-family="&quot;Liberation Sans&quot;, sans-serif" font-size="17.39" fill="#262626" textLength="64.03" lengthAdjust="spacing">2000 件</text>
<g transform="translate(275.75,347.65) rotate(14.2)">
<rect x="0" y="-7.35" width="56" height="14.7" fill="#000"/>
<rect x="10.4" y="-5.75" width="5" height="11.5" fill="#fff"/>
<rect x="24" y="-5.75" width="5" height="11.5" fill="#fff"/>
<rect x="37.8" y="-5.75" width="5" height="11.5" fill="#fff"/>
<rect x="51.2" y="-5.75" width="5" height="11.5" fill="#fff"/>
<polygon points="56.00,-16.50 76.30,0.00 56.00,16.50" fill="#000" stroke="none" stroke-width="0"/>
</g>
<polygon points="301.10,336.00 281.90,369.70 320.30,369.70" fill="#000" stroke="none" stroke-width="0"/>
<polygon points="301.10,344.69 289.30,365.40 312.90,365.40" fill="#fff" stroke="none" stroke-width="0"/>
<line x1="300.1" y1="349.48" x2="300.1" y2="360.938" stroke="#000" stroke-width="1.5" stroke-linecap="butt"/>
<text x="277.55" y="390.30" font-family="&quot;Liberation Sans&quot;, sans-serif" font-size="17.28" fill="#262626" textLength="45.77" lengthAdjust="spacingAndGlyphs">800件</text>
<g transform="translate(496.35,358.85) rotate(-25.6)">
<rect x="0" y="-7.05" width="55.9" height="14.1" fill="#000"/>
<rect x="9.2" y="-5.449999999999999" width="5" height="10.899999999999999" fill="#fff"/>
<rect x="24.5" y="-5.449999999999999" width="5" height="10.899999999999999" fill="#fff"/>
<rect x="40" y="-5.449999999999999" width="5" height="10.899999999999999" fill="#fff"/>
<rect x="51.4" y="-5.449999999999999" width="4.5" height="10.899999999999999" fill="#fff"/>
<polygon points="55.90,-17.05 74.90,0.00 55.90,17.05" fill="#000" stroke="none" stroke-width="0"/>
</g>
<polygon points="526.10,329.30 507.85,361.90 544.35,361.90" fill="#000" stroke="none" stroke-width="0"/>
<polygon points="526.10,336.87 514.16,358.20 538.04,358.20" fill="#fff" stroke="none" stroke-width="0"/>
<line x1="525.1" y1="342.34" x2="525.1" y2="353.424" stroke="#000" stroke-width="1.5" stroke-linecap="butt"/>
<ellipse cx="529.7" cy="354.2" rx="43.9" ry="47.8" fill="none" stroke="#E0161E" stroke-width="3.1"/>
<text x="501.80" y="383.40" font-family="&quot;Liberation Sans&quot;, sans-serif" font-size="17.83" fill="#262626" textLength="46.31" lengthAdjust="spacingAndGlyphs">785件</text>
<rect x="572.8" y="372.3" width="275" height="7.4" fill="#00B050"/>
<polygon points="847.40,364.40 870.80,376.00 847.40,388.10" fill="#00B050" stroke="none" stroke-width="0"/>
<text x="880.65" y="384.40" font-family="&quot;Liberation Sans&quot;, sans-serif" font-size="23.19" stroke="#00B050" stroke-width="0.8" fill="#00B050" textLength="48.26" lengthAdjust="spacingAndGlyphs">物流</text>
<rect x="566.1" y="462.9" width="274" height="7.7" fill="#00B050"/>
<polygon points="840.00,455.40 863.70,466.90 840.00,478.50" fill="#00B050" stroke="none" stroke-width="0"/>
<text x="871.40" y="477.10" font-family="&quot;Liberation Sans&quot;, sans-serif" font-size="23.83" stroke="#00B050" stroke-width="0.8" fill="#00B050" textLength="74.70" lengthAdjust="spacingAndGlyphs">时间轴</text>
<path d="M24.6,481.1 L127,481.1 L127,501.2 L257.7,501.2 L257.7,481.1 L342,481.1 L342,501.2 L471.7,501.2 L471.7,481.1 L546.4,481.1 L546.4,501.2 L695.1,501.2 L695.1,485.1 L769.9,485.1 L769.9,501.2 L872.8,501.2 L872.8,483.4 L947.6,483.4" fill="none" stroke="#000" stroke-width="1.6"/>
<text x="56.10" y="506.85" font-family="&quot;Liberation Sans&quot;, sans-serif" font-size="20.28" fill="#262626" textLength="21.18" lengthAdjust="spacingAndGlyphs">10</text>
<text x="90.25" y="506.60" font-family="&quot;Liberation Sans&quot;, sans-serif" font-size="19.46" fill="#262626" textLength="10.70" lengthAdjust="spacingAndGlyphs">d</text>
<text x="166.30" y="523.75" font-family="&quot;Liberation Sans&quot;, sans-serif" font-size="20.42" fill="#262626" textLength="31.06" lengthAdjust="spacingAndGlyphs">120</text>
<text x="211.30" y="523.75" font-family="&quot;Liberation Sans&quot;, sans-serif" font-size="18.18" fill="#262626" textLength="8.96" lengthAdjust="spacingAndGlyphs">s</text>
<text x="271.30" y="506.20" font-family="&quot;Liberation Sans&quot;, sans-serif" font-size="20.57" fill="#262626" textLength="21.18" lengthAdjust="spacingAndGlyphs">15</text>
<text x="303.75" y="506.20" font-family="&quot;Liberation Sans&quot;, sans-serif" font-size="19.46" fill="#262626" textLength="10.70" lengthAdjust="spacingAndGlyphs">d</text>
<text x="382.50" y="523.75" font-family="&quot;Liberation Sans&quot;, sans-serif" font-size="20.42" fill="#262626" textLength="30.73" lengthAdjust="spacingAndGlyphs">210</text>
<text x="427.90" y="523.75" font-family="&quot;Liberation Sans&quot;, sans-serif" font-size="18.18" fill="#262626" textLength="8.96" lengthAdjust="spacingAndGlyphs">s</text>
<text x="490.50" y="506.90" font-family="&quot;Liberation Sans&quot;, sans-serif" font-size="21.18" fill="#262626" textLength="9.39" lengthAdjust="spacingAndGlyphs">4</text>
<text x="514.15" y="506.40" font-family="&quot;Liberation Sans&quot;, sans-serif" font-size="19.46" fill="#262626" textLength="10.70" lengthAdjust="spacingAndGlyphs">d</text>
<text x="605.55" y="523.75" font-family="&quot;Liberation Sans&quot;, sans-serif" font-size="20.42" fill="#262626" textLength="30.57" lengthAdjust="spacingAndGlyphs">501</text>
<text x="651.00" y="523.75" font-family="&quot;Liberation Sans&quot;, sans-serif" font-size="18.18" fill="#262626" textLength="8.96" lengthAdjust="spacingAndGlyphs">s</text>
<text x="705.90" y="506.70" font-family="&quot;Liberation Sans&quot;, sans-serif" font-size="19.46" fill="#262626" textLength="56.11" lengthAdjust="spacing">1.5 d</text>
<text x="792.25" y="524.10" font-family="&quot;Liberation Sans&quot;, sans-serif" font-size="20.14" fill="#262626" textLength="30.54" lengthAdjust="spacingAndGlyphs">395</text>
<text x="838.00" y="524.15" font-family="&quot;Liberation Sans&quot;, sans-serif" font-size="18.18" fill="#262626" textLength="8.96" lengthAdjust="spacingAndGlyphs">s</text>
<text x="888.35" y="525.30" font-family="&quot;Liberation Sans&quot;, sans-serif" font-size="20.14" fill="#262626" textLength="9.89" lengthAdjust="spacingAndGlyphs">3</text>
<text x="912.15" y="525.30" font-family="&quot;Liberation Sans&quot;, sans-serif" font-size="19.32" fill="#262626" textLength="10.70" lengthAdjust="spacingAndGlyphs">d</text>
<line x1="198.6" y1="323.8" x2="198.6" y2="476.3" stroke="#FF0000" stroke-width="1.3" stroke-linecap="butt"/>
<polygon points="194.40,473.80 202.80,473.80 198.60,483.30" fill="#FF0000" stroke="none" stroke-width="0"/>
<line x1="407" y1="333.2" x2="407" y2="484.9" stroke="#FF0000" stroke-width="1.3" stroke-linecap="butt"/>
<polygon points="402.80,482.40 411.20,482.40 407.00,491.90" fill="#FF0000" stroke="none" stroke-width="0"/>
<line x1="616.4" y1="332.4" x2="616.4" y2="484.9" stroke="#FF0000" stroke-width="1.3" stroke-linecap="butt"/>
<polygon points="612.20,482.40 620.60,482.40 616.40,491.90" fill="#FF0000" stroke="none" stroke-width="0"/>
<line x1="825.2" y1="332.4" x2="825.2" y2="484.6" stroke="#FF0000" stroke-width="1.3" stroke-linecap="butt"/>
<polygon points="821.00,482.10 829.40,482.10 825.20,491.60" fill="#FF0000" stroke="none" stroke-width="0"/>
<rect x="955.55" y="454.45" width="112.50" height="73.00" fill="#fff" stroke="#000" stroke-width="1.5"/>
<line x1="955.5" y1="489.3" x2="1068" y2="489.3" stroke="#000" stroke-width="1.5" stroke-linecap="butt"/>
<text x="964.12" y="481.60" font-family="&quot;Liberation Sans&quot;, sans-serif" font-size="18.86" fill="#FF0000" stroke="#FF0000" stroke-width="0.45" textLength="9.61" lengthAdjust="spacingAndGlyphs">L</text>
<text x="975.60" y="481.60" font-family="&quot;Liberation Sans&quot;, sans-serif" font-size="18.86" fill="#FF0000" stroke="#FF0000" stroke-width="0.45" textLength="6.16" lengthAdjust="spacingAndGlyphs">/</text>
<text x="983.50" y="481.60" font-family="&quot;Liberation Sans&quot;, sans-serif" font-size="18.86" fill="#FF0000" stroke="#FF0000" stroke-width="0.45" textLength="9.22" lengthAdjust="spacingAndGlyphs">T</text>
<text x="1002.10" y="481.60" font-family="&quot;Liberation Sans&quot;, sans-serif" font-size="18.86" fill="#FF0000" stroke="#FF0000" stroke-width="0.45" textLength="9.70" lengthAdjust="spacingAndGlyphs">3</text>
<text x="1011.50" y="481.60" font-family="&quot;Liberation Sans&quot;, sans-serif" font-size="18.86" fill="#FF0000" stroke="#FF0000" stroke-width="0.45" textLength="9.70" lengthAdjust="spacingAndGlyphs">3</text>
<text x="1019.86" y="481.60" font-family="&quot;Liberation Sans&quot;, sans-serif" font-size="18.86" fill="#FF0000" stroke="#FF0000" stroke-width="0.45" textLength="7.23" lengthAdjust="spacingAndGlyphs">.</text>
<text x="1030.30" y="481.60" font-family="&quot;Liberation Sans&quot;, sans-serif" font-size="18.86" fill="#FF0000" stroke="#FF0000" stroke-width="0.45" textLength="9.70" lengthAdjust="spacingAndGlyphs">5</text>
<text x="1048.84" y="481.60" font-family="&quot;Liberation Sans&quot;, sans-serif" font-size="18.86" fill="#FF0000" stroke="#FF0000" stroke-width="0.45" textLength="10.63" lengthAdjust="spacingAndGlyphs">d</text>
<text x="964.22" y="518.10" font-family="&quot;Liberation Sans&quot;, sans-serif" font-size="18.86" fill="#FF0000" stroke="#FF0000" stroke-width="0.45" textLength="9.82" lengthAdjust="spacingAndGlyphs">P</text>
<text x="975.60" y="518.10" font-family="&quot;Liberation Sans&quot;, sans-serif" font-size="18.86" fill="#FF0000" stroke="#FF0000" stroke-width="0.45" textLength="6.16" lengthAdjust="spacingAndGlyphs">/</text>
<text x="983.50" y="518.10" font-family="&quot;Liberation Sans&quot;, sans-serif" font-size="18.86" fill="#FF0000" stroke="#FF0000" stroke-width="0.45" textLength="9.22" lengthAdjust="spacingAndGlyphs">T</text>
<text x="1001.27" y="518.10" font-family="&quot;Liberation Sans&quot;, sans-serif" font-size="18.86" fill="#FF0000" stroke="#FF0000" stroke-width="0.45" textLength="10.61" lengthAdjust="spacingAndGlyphs">1</text>
<text x="1011.31" y="518.10" font-family="&quot;Liberation Sans&quot;, sans-serif" font-size="18.86" fill="#FF0000" stroke="#FF0000" stroke-width="0.45" textLength="9.92" lengthAdjust="spacingAndGlyphs">2</text>
<text x="1020.71" y="518.10" font-family="&quot;Liberation Sans&quot;, sans-serif" font-size="18.86" fill="#FF0000" stroke="#FF0000" stroke-width="0.45" textLength="9.92" lengthAdjust="spacingAndGlyphs">2</text>
<text x="1030.11" y="518.10" font-family="&quot;Liberation Sans&quot;, sans-serif" font-size="18.86" fill="#FF0000" stroke="#FF0000" stroke-width="0.45" textLength="9.92" lengthAdjust="spacingAndGlyphs">6</text>
<text x="1049.46" y="518.10" font-family="&quot;Liberation Sans&quot;, sans-serif" font-size="18.86" fill="#FF0000" stroke="#FF0000" stroke-width="0.45" textLength="9.07" lengthAdjust="spacingAndGlyphs">s</text>
</svg>
</body></html>
